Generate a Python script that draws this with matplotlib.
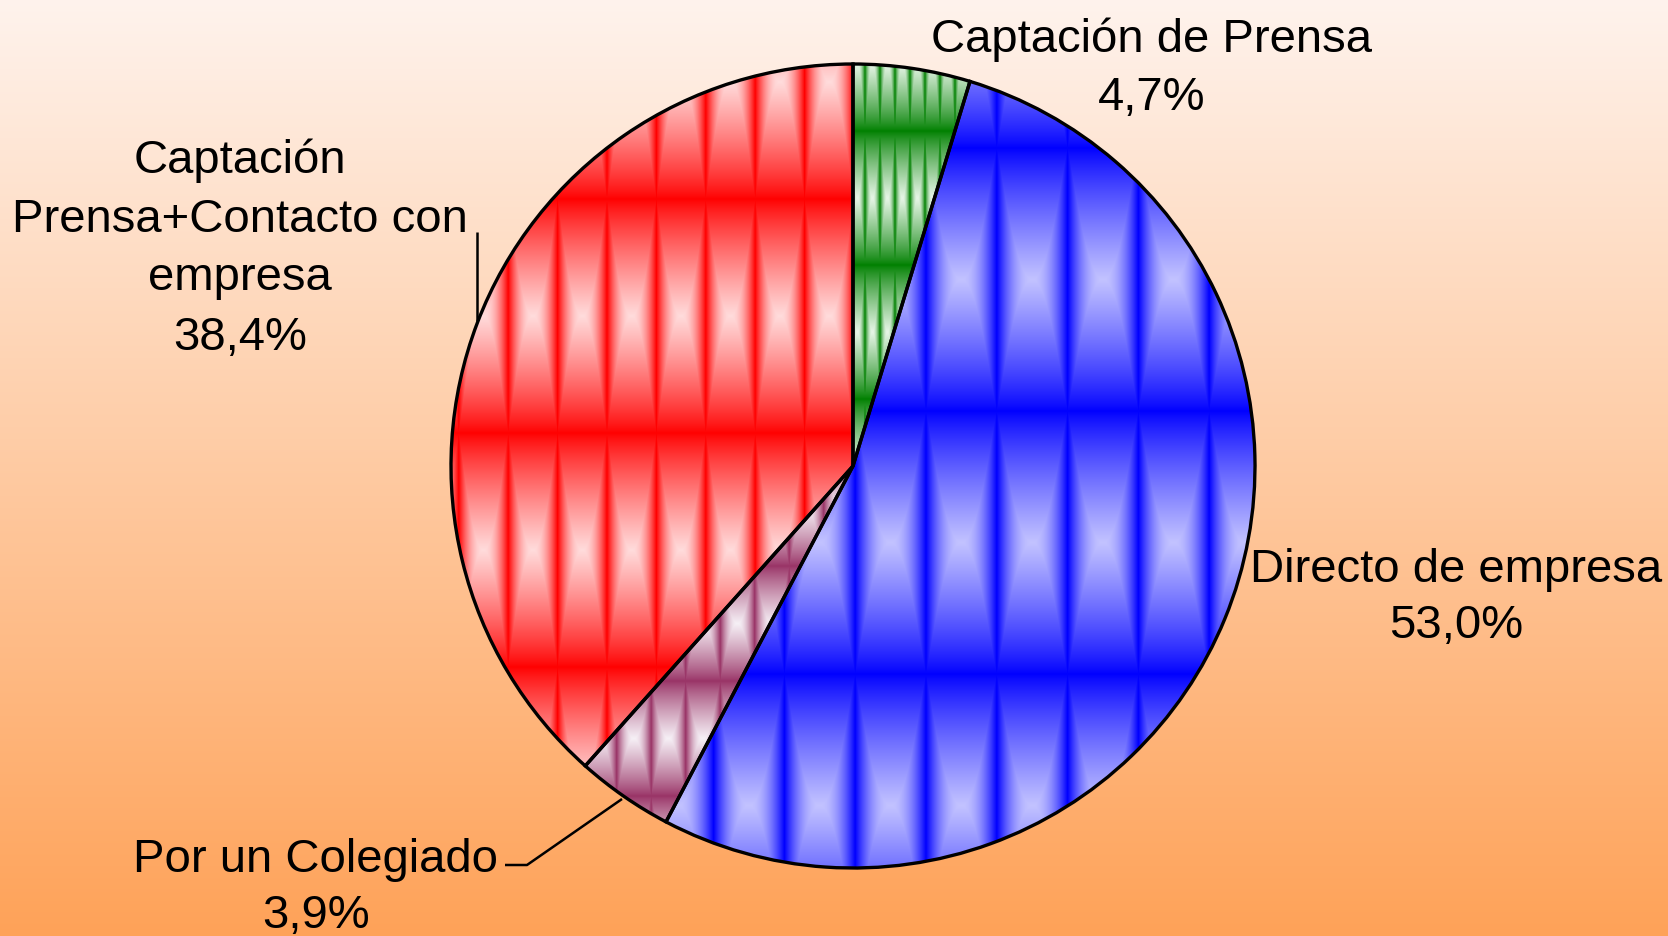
import numpy as np
import matplotlib
matplotlib.use("Agg")
import matplotlib.pyplot as plt

# ---- data ----
categories = ["Captación de Prensa", "Directo de empresa", "Por un Colegiado",
              "Captación Prensa+Contacto con empresa"]
values = [4.7, 53.0, 3.9, 38.4]
label_lines = [["Captación de Prensa"], ["Directo de empresa"], ["Por un Colegiado"],
               ["Captación", "Prensa+Contacto con", "empresa"]]
pct_labels = [f"{v:.1f}".replace(".", ",") + "%" for v in values]

# ---- layout / style ----
W, H = 1668, 937
FONT = ["Liberation Sans", "DejaVu Sans"]
FS = 34

# pattern styles: (x0, period_x, y0, period_y, dark rgb, light rgb)
styles = [
    (865.0, 15.0, 132.0, 134.0, (0, 128, 0), (232, 246, 232)),
    (926.0, 70.8, 412.0, 263.0, (0, 0, 255), (195, 195, 255)),
    (616.7, 34.5, 682.0, 115.0, (153, 51, 102), (246, 240, 246)),
    (607.0, 49.4, 434.0, 234.0, (255, 0, 0), (255, 220, 220)),
]

fig = plt.figure(figsize=(W / 100, H / 100), dpi=100)
ax = fig.add_axes([0, 0, 1, 1])

# background gradient
top = np.array([255, 243, 237], dtype=np.float32) / 255
bot = np.array([254, 162, 88], dtype=np.float32) / 255
t = np.linspace(0, 1, H, dtype=np.float32)[:, None, None]
bg = top + (bot - top) * t
bg = np.repeat(bg, 2, axis=1)
ax.imshow(bg, extent=(0, W, 0, H), aspect="auto", origin="upper",
          interpolation="bilinear", zorder=0)

cx, cy, r = 853, H - 467, 402
wedges, _ = ax.pie(values, startangle=90, counterclock=False, radius=r,
                   center=(cx, cy),
                   wedgeprops=dict(facecolor="none", edgecolor="black",
                                   linewidth=2.4, zorder=3))

X = (np.arange(W, dtype=np.float32) + 0.5)[None, :]
Y = (np.arange(H, dtype=np.float32) + 0.5)[:, None]
for w, (x0, px, y0, py, dark, light) in zip(wedges, styles):
    a = np.abs(((X - x0) / px) % 1.0 - 0.5) * 2  # 1 at line, 0 at tile centre
    b = np.abs(((Y - y0) / py) % 1.0 - 0.5) * 2
    L = np.minimum(1 - a ** 2, (1 - b) ** 0.85)
    d = np.array(dark, dtype=np.float32) / 255
    l = np.array(light, dtype=np.float32) / 255
    img = d + (l - d) * L[..., None]
    im = ax.imshow(img, extent=(0, W, 0, H), origin="upper", aspect="auto",
                   interpolation="nearest", zorder=2)
    im.set_clip_path(w)

# labels
label_pos = [(1152, [52, 110]), (1456, [582, 638]), (316, [872, 928]),
             (240, [173, 232, 290, 350])]
for lines, pct, (x, bases) in zip(label_lines, pct_labels, label_pos):
    for txt, yb in zip(lines + [pct], bases):
        ax.text(x, H - yb, txt, ha="center", va="baseline", fontsize=FS,
                family=FONT, color="black", zorder=5)

# leader lines
ax.plot([477, 477], [H - 233, H - 322], color="black", lw=1.8, zorder=4,
        solid_capstyle="butt")
ax.plot([505, 527, 622], [H - 866, H - 866, H - 800], color="black", lw=1.8,
        zorder=4, solid_capstyle="butt")

ax.set_xlim(0, W)
ax.set_ylim(0, H)
ax.set_aspect("equal")
ax.axis("off")
fig.savefig("out.png", dpi=100)
